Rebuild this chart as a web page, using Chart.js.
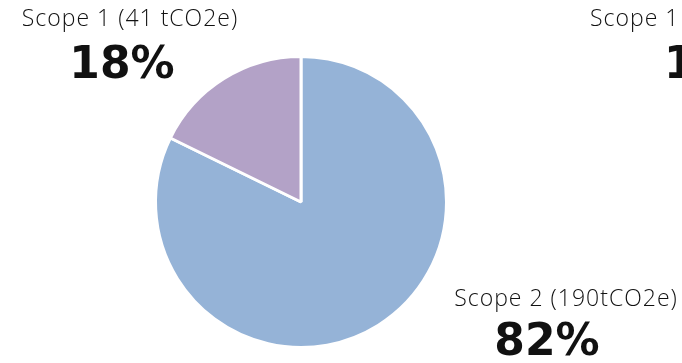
<!DOCTYPE html>
<html>
<head>
<meta charset="utf-8">
<script src="https://cdn.jsdelivr.net/npm/chart.js@4"></script>
<style>
  html, body { margin: 0; padding: 0; background: #fff; }
  #wrap { width: 682px; height: 363px; }
</style>
</head>
<body>
<div id="wrap"><canvas id="pieChart" width="682" height="363"></canvas></div>
<script>
// scope order follows the slices clockwise from 12 o'clock
const scopeLabels = ['Scope 2 (190tCO2e)', 'Scope 1 (41 tCO2e)'];
const scopeValues = [190, 41];
const scopeColors = ['#95B3D7', '#B3A2C7'];

const total = scopeValues.reduce((a, b) => a + b, 0);
const pct = scopeValues.map(v => Math.round(v / total * 100) + '%');

// label spots: small line (x1,y1), big percent (x2,y2)
const labelSpots = [
  { x1: 566, y1: 299, x2: 547, y2: 344 },
  { x1: 130, y1: 19, x2: 122, y2: 67 }
];

const smallFont = '300 23px "Open Sans"';
const bigFont = 'bold 44px "DejaVu Sans"';

const labelPlugin = {
  id: 'scopeLabels',
  afterDraw(chart) {
    const ctx = chart.ctx;
    ctx.save();
    ctx.fillStyle = '#111';
    ctx.textBaseline = 'middle';
    ctx.textAlign = 'center';
    scopeLabels.forEach((lbl, i) => {
      const s = labelSpots[i];
      ctx.font = smallFont;
      ctx.letterSpacing = '1px';
      ctx.fillText(lbl, s.x1, s.y1);
      ctx.font = bigFont;
      ctx.letterSpacing = '0px';
      ctx.fillText(pct[i], s.x2, s.y2);
    });
    // next chart peeking in at the right edge
    ctx.textAlign = 'left';
    ctx.font = smallFont;
    ctx.letterSpacing = '1px';
    ctx.fillText('Scope 1', 590, 19);
    ctx.font = bigFont;
    ctx.letterSpacing = '0px';
    ctx.fillText('1', 664, 67);
    ctx.restore();
  }
};

const pieConfig = {
  type: 'pie',
  data: {
    labels: scopeLabels,
    datasets: [{
      data: scopeValues,
      backgroundColor: scopeColors,
      borderColor: '#fff',
      borderWidth: 3
    }]
  },
  options: {
    responsive: false,
    animation: false,
    layout: {
      padding: { top: 55, bottom: 14, left: 154, right: 234 }
    },
    plugins: {
      legend: { display: false },
      tooltip: { enabled: false }
    }
  },
  plugins: [labelPlugin]
};

const myPieChart = new Chart(document.getElementById('pieChart'), pieConfig);
</script>
</body>
</html>
